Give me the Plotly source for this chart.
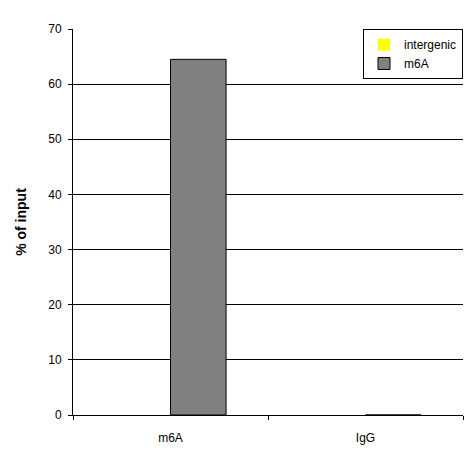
import plotly.graph_objects as go

categories = ["m6A", "IgG"]
intergenic = [0, 0]
m6a = [64.5, 0]
yticks = [0, 10, 20, 30, 40, 50, 60, 70]

fig = go.Figure()
fig.add_bar(x=categories, y=intergenic, name="intergenic",
            marker=dict(color="#ffff00", line=dict(color="#000000", width=0)))
fig.add_bar(x=categories, y=m6a, name="m6A",
            marker=dict(color="#808080", line=dict(color="#000000", width=1)))
fig.update_layout(
    width=474, height=450, barmode="group", bargap=0.43, bargroupgap=0,
    margin=dict(l=65, r=19, t=21, b=43, autoexpand=False),
    paper_bgcolor="white", plot_bgcolor="white",
    font=dict(family="Liberation Sans, Arial", size=12, color="black"),
    showlegend=True,
    legend=dict(x=1, y=1, xanchor="right", yanchor="top", bordercolor="black",
                borderwidth=1, bgcolor="white", font=dict(size=12),
                tracegroupgap=0, itemwidth=30),
    xaxis=dict(type="category", tickson="boundaries", ticks="outside", ticklen=4,
               showline=True, linecolor="black", showgrid=False, tickcolor="black",
               automargin=False, ticklabelstandoff=12),
    yaxis=dict(range=[0, 70], tickvals=yticks, showgrid=True, gridcolor="black",
               showline=True, linecolor="black", ticks="outside", ticklen=4,
               tickcolor="black", zeroline=False, automargin=False,
               ticklabelstandoff=4,
               title=dict(text="<b>% of input</b>", font=dict(size=14), standoff=18)),
)
fig.write_html("out.html")
